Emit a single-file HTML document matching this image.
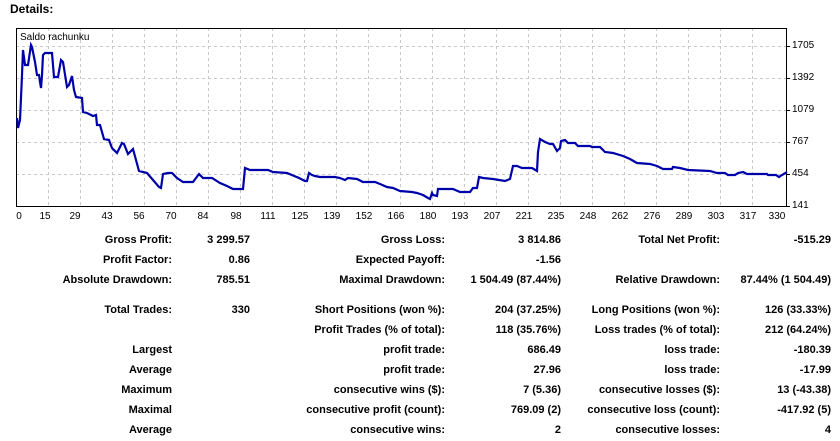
<!DOCTYPE html>
<html><head><style>
body{margin:0;width:840px;height:441px;background:#fff;font-family:"Liberation Sans",Arial,sans-serif;position:relative;overflow:hidden}
.t{position:absolute;font-size:11px;font-weight:bold;color:#000;white-space:nowrap;line-height:13px}
.c1{right:668px}.c2{right:590px}.c3{right:395px}.c4{right:279px}.c5{right:120px}.c6{right:9px}
</style></head><body>
<div class="t" style="left:10px;top:3px;font-size:12px">Details:</div>
<svg width="840" height="225" style="position:absolute;left:0;top:0" font-family="Liberation Sans, Arial, sans-serif" font-size="10">
<g stroke="#c8c8c8" stroke-dasharray="3,3" stroke-width="1">
<line x1="16" y1="46.5" x2="787" y2="46.5"/><line x1="16" y1="78.5" x2="787" y2="78.5"/><line x1="16" y1="110.5" x2="787" y2="110.5"/><line x1="16" y1="142.5" x2="787" y2="142.5"/><line x1="16" y1="174.5" x2="787" y2="174.5"/>
<line x1="48.5" y1="28" x2="48.5" y2="207"/><line x1="80.5" y1="28" x2="80.5" y2="207"/><line x1="112.5" y1="28" x2="112.5" y2="207"/><line x1="144.5" y1="28" x2="144.5" y2="207"/><line x1="176.5" y1="28" x2="176.5" y2="207"/><line x1="208.5" y1="28" x2="208.5" y2="207"/><line x1="240.5" y1="28" x2="240.5" y2="207"/><line x1="272.5" y1="28" x2="272.5" y2="207"/><line x1="304.5" y1="28" x2="304.5" y2="207"/><line x1="336.5" y1="28" x2="336.5" y2="207"/><line x1="368.5" y1="28" x2="368.5" y2="207"/><line x1="400.5" y1="28" x2="400.5" y2="207"/><line x1="432.5" y1="28" x2="432.5" y2="207"/><line x1="464.5" y1="28" x2="464.5" y2="207"/><line x1="496.5" y1="28" x2="496.5" y2="207"/><line x1="528.5" y1="28" x2="528.5" y2="207"/><line x1="560.5" y1="28" x2="560.5" y2="207"/><line x1="592.5" y1="28" x2="592.5" y2="207"/><line x1="624.5" y1="28" x2="624.5" y2="207"/><line x1="656.5" y1="28" x2="656.5" y2="207"/><line x1="688.5" y1="28" x2="688.5" y2="207"/><line x1="720.5" y1="28" x2="720.5" y2="207"/><line x1="752.5" y1="28" x2="752.5" y2="207"/>
</g>
<rect x="16.5" y="28.5" width="770" height="178" fill="none" stroke="#000"/>
<g stroke="#000"><line x1="787" y1="46.5" x2="790" y2="46.5"/><line x1="787" y1="78.5" x2="790" y2="78.5"/><line x1="787" y1="110.5" x2="790" y2="110.5"/><line x1="787" y1="142.5" x2="790" y2="142.5"/><line x1="787" y1="174.5" x2="790" y2="174.5"/><line x1="787" y1="206.5" x2="790" y2="206.5"/></g>
<text x="20" y="40" font-size="10">Saldo rachunku</text>
<polyline fill="none" stroke="#0000aa" stroke-width="2.2" stroke-linejoin="miter" points="17,118 18,128 20,120 21,98 22,75 23,50 25,65 28,65 31,45 32,47 35,62 37,75 39,75 40,82 41,88 42,75 43,55 45,53 52,53 54,77 58,77 61,60 63,62 67,87 69,85 72,76 74,90 76,97 82,98 83,112 87,113 93,116 96,115 97,125 100,125 104,139 109,140 112,148 117,153 122,143 124,144 128,154 133,149 139,171 147,173 153,180 159,187 161,188 163,174 168,173 172,173 177,178 183,182 193,182 199,174 203,178 212,178 220,183 227,186 233,189 243,189 245,168 250,170 268,170 273,172 287,173 299,178 297,177 305,181 307,181 309,173 312,175 315,176 320,177 330,177 335,177 340,178 345,180 348,178 357,179 363,182 375,182 380,184 387,187 393,188 400,191 412,192 417,193 423,195 428,198 430,199 432,193 433,195 437,196 438,189 453,189 460,192 470,192 473,188 477,188 479,177 483,178 493,179 505,181 510,179 513,166 517,166 522,168 532,168 537,171 538,152 540,139 545,142 550,144 553,144 557,151 560,148 561,141 565,140 568,143 575,143 578,146 590,146 592,147 600,147 605,152 613,153 623,156 630,159 637,163 650,164 657,166 663,169 672,169 673,167 680,168 688,170 710,171 717,173 725,173 728,175 735,175 738,173 743,172 747,174 767,174 768,175 776,175 779,177 782,175 787,172"/>
<g fill="#000" font-size="10">
<text x="792" y="48">1705</text><text x="792" y="80">1392</text><text x="792" y="112">1079</text><text x="792" y="144">767</text><text x="792" y="176">454</text><text x="792" y="208">141</text>
</g>
<g fill="#000" font-size="10" text-anchor="middle">
<text x="19" y="219">0</text><text x="45" y="219">15</text><text x="75" y="219">29</text><text x="107" y="219">43</text><text x="139" y="219">56</text><text x="171" y="219">70</text><text x="203" y="219">84</text><text x="236" y="219">98</text><text x="268" y="219">111</text><text x="300" y="219">125</text><text x="332" y="219">139</text><text x="364" y="219">152</text><text x="396" y="219">166</text><text x="428" y="219">180</text><text x="460" y="219">193</text><text x="492" y="219">207</text><text x="524" y="219">221</text><text x="556" y="219">235</text><text x="588" y="219">248</text><text x="620" y="219">262</text><text x="652" y="219">276</text><text x="684" y="219">289</text><text x="716" y="219">303</text><text x="748" y="219">317</text><text x="777" y="219">330</text>
</g>
</svg>

<div class="t c1" style="top:234px">Gross Profit:</div><div class="t c2" style="top:234px">3 299.57</div><div class="t c3" style="top:234px">Gross Loss:</div><div class="t c4" style="top:234px">3 814.86</div><div class="t c5" style="top:234px">Total Net Profit:</div><div class="t c6" style="top:234px">-515.29</div>
<div class="t c1" style="top:254px">Profit Factor:</div><div class="t c2" style="top:254px">0.86</div><div class="t c3" style="top:254px">Expected Payoff:</div><div class="t c4" style="top:254px">-1.56</div>
<div class="t c1" style="top:274px">Absolute Drawdown:</div><div class="t c2" style="top:274px">785.51</div><div class="t c3" style="top:274px">Maximal Drawdown:</div><div class="t c4" style="top:274px">1 504.49 (87.44%)</div><div class="t c5" style="top:274px">Relative Drawdown:</div><div class="t c6" style="top:274px">87.44% (1 504.49)</div>
<div class="t c1" style="top:304px">Total Trades:</div><div class="t c2" style="top:304px">330</div><div class="t c3" style="top:304px">Short Positions (won %):</div><div class="t c4" style="top:304px">204 (37.25%)</div><div class="t c5" style="top:304px">Long Positions (won %):</div><div class="t c6" style="top:304px">126 (33.33%)</div>
<div class="t c3" style="top:324px">Profit Trades (% of total):</div><div class="t c4" style="top:324px">118 (35.76%)</div><div class="t c5" style="top:324px">Loss trades (% of total):</div><div class="t c6" style="top:324px">212 (64.24%)</div>
<div class="t c1" style="top:344px">Largest</div><div class="t c3" style="top:344px">profit trade:</div><div class="t c4" style="top:344px">686.49</div><div class="t c5" style="top:344px">loss trade:</div><div class="t c6" style="top:344px">-180.39</div>
<div class="t c1" style="top:364px">Average</div><div class="t c3" style="top:364px">profit trade:</div><div class="t c4" style="top:364px">27.96</div><div class="t c5" style="top:364px">loss trade:</div><div class="t c6" style="top:364px">-17.99</div>
<div class="t c1" style="top:384px">Maximum</div><div class="t c3" style="top:384px">consecutive wins ($):</div><div class="t c4" style="top:384px">7 (5.36)</div><div class="t c5" style="top:384px">consecutive losses ($):</div><div class="t c6" style="top:384px">13 (-43.38)</div>
<div class="t c1" style="top:404px">Maximal</div><div class="t c3" style="top:404px">consecutive profit (count):</div><div class="t c4" style="top:404px">769.09 (2)</div><div class="t c5" style="top:404px">consecutive loss (count):</div><div class="t c6" style="top:404px">-417.92 (5)</div>
<div class="t c1" style="top:424px">Average</div><div class="t c3" style="top:424px">consecutive wins:</div><div class="t c4" style="top:424px">2</div><div class="t c5" style="top:424px">consecutive losses:</div><div class="t c6" style="top:424px">4</div>
</body></html>
